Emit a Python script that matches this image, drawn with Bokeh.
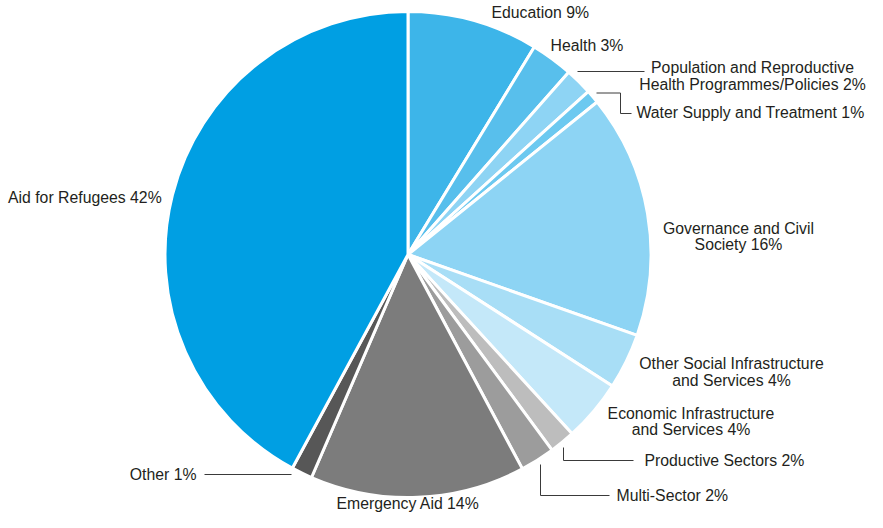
import numpy as np
from bokeh.plotting import figure
from bokeh.models import Range1d, ColumnDataSource
from bokeh.embed import file_html
from bokeh.resources import INLINE
from bokeh.core.properties import value

# ---- data (clockwise from 12 o'clock) ----
categories = ["Education", "Health", "Population and Reproductive Health Programmes/Policies",
              "Water Supply and Treatment", "Governance and Civil Society",
              "Other Social Infrastructure and Services", "Economic Infrastructure and Services",
              "Productive Sectors", "Multi-Sector", "Emergency Aid", "Other", "Aid for Refugees"]
shares = [8.7, 2.8, 1.8, 0.9, 16.2, 3.7, 4.1, 1.7, 2.3, 14.3, 1.4, 42.1]
label_lines = [["Education 9%"], ["Health 3%"],
               ["Population and Reproductive", "Health Programmes/Policies 2%"],
               ["Water Supply and Treatment 1%"], ["Governance and Civil", "Society 16%"],
               ["Other Social Infrastructure", "and Services 4%"],
               ["Economic Infrastructure", "and Services 4%"],
               ["Productive Sectors 2%"], ["Multi-Sector 2%"], ["Emergency Aid 14%"],
               ["Other 1%"], ["Aid for Refugees 42%"]]
colors = ["#3DB5E9", "#58BFEC", "#8ED4F4", "#6CC9F0", "#8DD4F4", "#A8DEF6", "#C4E8F9",
          "#BDBDBD", "#9C9C9C", "#7C7C7C", "#575757", "#009FE3"]

W, H = 867, 512
def X(px): return px - 4
def Y(py): return 520 - py

p = figure(width=W, height=H, output_backend="svg", toolbar_location=None,
           x_range=Range1d(0, W), y_range=Range1d(0, H), min_border=0)
p.axis.visible = False
p.grid.visible = False
p.outline_line_color = None
p.background_fill_color = "white"

cx, cy, r = X(411.5), Y(262), 243
vals = np.array(shares, dtype=float)
cum = np.concatenate([[0], np.cumsum(vals)]) / vals.sum() * 2 * np.pi
start = np.pi / 2 - cum[1:]
end = np.pi / 2 - cum[:-1]
src = ColumnDataSource(dict(start=start, end=end, color=colors, cat=categories))
p.wedge(x=cx, y=cy, radius=r, start_angle="start", end_angle="end", direction="anticlock",
        fill_color="color", line_color="white", line_width=3, source=src)

# leader lines (reference page coords)
leaders = [
    [(581, 79), (648, 79)],
    [(600, 100.5), (624, 100.5), (624, 121), (635, 121)],
    [(567, 455), (567, 468), (637, 468)],
    [(544, 472), (544, 503), (613, 503)],
    [(208, 482), (295, 482)],
]
for pts in leaders:
    p.line([X(a) for a, b in pts], [Y(b) for a, b in pts], line_color="#3a3a3a", line_width=1)

# label placement: (x, y of first line, align)
placement = [(495, 20, "left"), (554, 53, "left"), (756, 75, "center"), (640, 120, "left"),
             (742, 235.5, "center"), (735, 371, "center"), (694.5, 420.5, "center"),
             (648, 468, "left"), (620, 503, "left"), (411.5, 511, "center"),
             (200, 481.5, "right"), (11.5, 204.5, "left")]
lh = 16.5
tx, ty, tt, ta = [], [], [], []
for lines, (x, y, al) in zip(label_lines, placement):
    for i, ln in enumerate(lines):
        tx.append(X(x)); ty.append(Y(y + i * lh)); tt.append(ln); ta.append(al)
tsrc = ColumnDataSource(dict(x=tx, y=ty, text=tt, align=ta))
p.text(x="x", y="y", text="text", text_align="align", text_baseline="middle",
       text_font=value("Liberation Sans"), text_font_size="15.8px", text_color="#231F20",
       source=tsrc)

open("out.html", "w").write(file_html(p, INLINE))
